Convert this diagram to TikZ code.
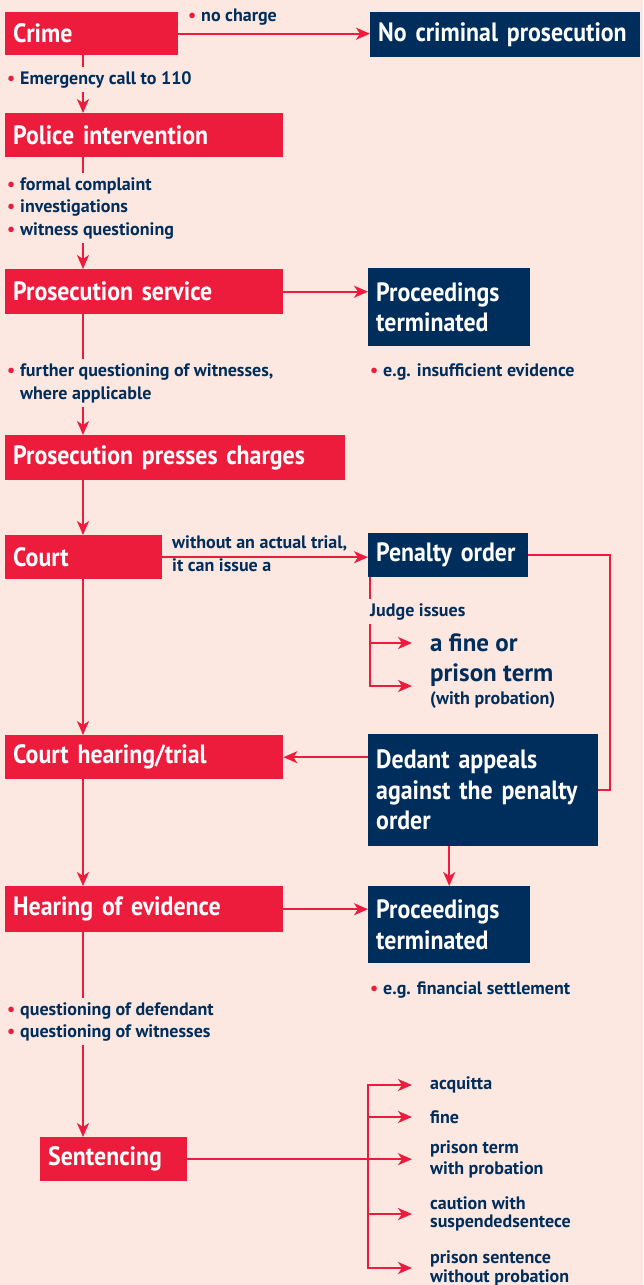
\documentclass[tikz,border=0pt]{standalone}
\usepackage{fontspec}
\setmainfont{PT Sans}
\newfontfamily\boxfont[FakeStretch=0.9]{PT Sans}
\usetikzlibrary{arrows.meta}
\usetikzlibrary{positioning}
\usetikzlibrary{calc}
\definecolor{bgpink}{HTML}{FCE7E1}
\definecolor{crimred}{HTML}{EE1C3C}
\definecolor{navy}{HTML}{002E5C}
\tikzstyle{redbox} = [rectangle, anchor=north west, fill=crimred, text=white, font=\boxfont\bfseries\fontsize{26.5}{30.5}\selectfont, align=left, inner xsep=8pt, inner ysep=0pt]
\tikzstyle{bluebox} = [redbox, fill=navy]
\tikzstyle{note} = [anchor=north west, text=navy, font=\bfseries\fontsize{18}{22.5}\selectfont, align=left, inner xsep=0pt, inner ysep=4pt]
\tikzstyle{outcome} = [note, anchor=west, font=\bfseries\fontsize{18}{20}\selectfont]
\tikzstyle{line} = [crimred, line width=2pt]
\tikzstyle{arrow} = [line, -{Stealth[length=14pt,width=12pt,inset=4pt]}]
\newcommand{\rdot}{\makebox[13pt][l]{\textcolor{crimred}{\textbullet}}}

\begin{document}
\begin{tikzpicture}[x=1pt, y=-1pt]

    \fill[bgpink] (0,0) rectangle (643,1285);
    \useasboundingbox (0,0) rectangle (643,1285);
    \coordinate (spine) at (83,0);
    \coordinate (bus) at (368,0);

    \node (crime) [redbox, text width=157pt, minimum height=43pt] at (5,12) {Crime};
    \node (nocrim) [bluebox, text width=254pt, minimum height=45pt] at (370,12) {No criminal prosecution};
    \node (police) [redbox, text width=262pt, minimum height=44pt] at (5,113) {Police intervention};
    \node (prosserv) [redbox, text width=262pt, minimum height=45pt] at (5,269) {Prosecution service};
    \node (term1) [bluebox, text width=146pt, minimum height=78pt] at (368,268) {Proceedings\\terminated};
    \node (charges) [redbox, text width=324pt, minimum height=45pt] at (5,435) {Prosecution presses charges};
    \node (court) [redbox, text width=141pt, minimum height=44pt] at (5,535) {Court};
    \node (penalty) [bluebox, text width=144pt, minimum height=44pt] at (368,533) {Penalty order};
    \node (hearing) [redbox, text width=262pt, minimum height=44pt] at (5,735) {Court hearing/trial};
    \node (appeal) [bluebox, text width=214pt, minimum height=112pt] at (368,734) {Dedant appeals\\against the penalty\\order};
    \node (evidence) [redbox, text width=262pt, minimum height=46pt] at (5,886) {Hearing of evidence};
    \node (term2) [bluebox, text width=146pt, minimum height=77pt] at (368,886) {Proceedings\\terminated};
    \node (sent) [redbox, text width=131pt, minimum height=44pt] at (40,1137) {Sentencing};

    \node (nocharge) [note] at (188,5) {\rdot no charge};
    \node (emerg) [note] at (7,67) {\rdot Emergency call to 110};
    \node (inquiry) [note] at (7,173) {\rdot formal complaint\\\rdot investigations\\\rdot witness questioning};
    \node (further) [note, font=\bfseries\fontsize{18}{23}\selectfont] at (7,359) {\rdot further questioning of witnesses,\\\hspace*{13pt}where applicable};
    \node (insuff) [note] at (370,359) {\rdot e.g. insufficient evidence};
    \node (notrial) [note, font=\bfseries\fontsize{18}{23}\selectfont] at (172,531) {without an actual trial,\\it can issue a};
    \node (judge) [note] at (370,599) {Judge issues};
    \node (fineor) [outcome, font=\bfseries\fontsize{25}{26}\selectfont] at (430,643) {a fine or};
    \node (prison) [outcome, font=\bfseries\fontsize{25}{23}\selectfont] at (430,686) {prison term\\{\fontsize{18}{18}\selectfont (with probation)}};
    \node (settle) [note] at (370,977) {\rdot e.g. financial settlement};
    \node (quest) [note, font=\bfseries\fontsize{18}{22}\selectfont] at (7,998) {\rdot questioning of defendant\\\rdot questioning of witnesses};

    \node (acq) [outcome] at (430,1085) {acquitta};
    \node (fine) [outcome] at (430,1117) {fine};
    \node (probterm) [outcome, font=\bfseries\fontsize{18}{21}\selectfont] at (430,1159) {prison term\\with probation};
    \node (caution) [outcome, font=\bfseries\fontsize{18}{18}\selectfont] at (430,1214) {caution with\\suspendedsentece};
    \node (psent) [outcome, font=\bfseries\fontsize{18}{19}\selectfont] at (430,1268) {prison sentence\\without probation};

    \draw [arrow] (crime.east) -- (crime.east -| nocrim.west);
    \draw [line] (crime.south -| spine) -- (emerg.north -| spine);
    \draw [arrow] (emerg.south -| spine) -- (police.north -| spine);
    \draw [line] (police.south -| spine) -- (inquiry.north -| spine);
    \draw [arrow] (inquiry.south -| spine) -- (prosserv.north -| spine);
    \draw [arrow] (prosserv.east) -- (prosserv.east -| term1.west);
    \draw [line] (prosserv.south -| spine) -- (further.north -| spine);
    \draw [arrow] (further.south -| spine) -- (charges.north -| spine);
    \draw [arrow] (charges.south -| spine) -- (court.north -| spine);
    \draw [arrow] (court.east) -- (court.east -| penalty.west);
    \draw [arrow] (court.south -| spine) -- (hearing.north -| spine);

    \draw [line] ([xshift=2pt]penalty.south west) -- ([xshift=2pt]penalty.south west |- judge.north);
    \draw [arrow, shorten >=18pt] (judge.south west) |- (fineor.west);
    \draw [arrow, shorten >=18pt] (judge.south west) |- (prison.west);
    \draw [line] (penalty.east) -| ($(appeal.east)+(12,0)$) -- (appeal.east);
    \draw [arrow] (appeal.west |- hearing.east) -- (hearing.east);
    \draw [arrow] (term2.north |- appeal.south) -- (term2.north);

    \draw [arrow] (hearing.south -| spine) -- (evidence.north -| spine);
    \draw [arrow] (evidence.east) -- (evidence.east -| term2.west);
    \draw [line] (evidence.south -| spine) -- (quest.north -| spine);
    \draw [arrow] (quest.south -| spine) -- (sent.north -| spine);

    \draw [arrow, shorten >=18pt] (sent.east) -- (sent.east -| probterm.west);
    \draw [arrow, shorten >=18pt] (bus |- sent.east) |- (acq.west);
    \draw [arrow, shorten >=18pt] (bus |- sent.east) |- (fine.west);
    \draw [arrow, shorten >=18pt] (bus |- sent.east) |- (caution.west);
    \draw [arrow, shorten >=18pt] (bus |- sent.east) |- (psent.west);

\end{tikzpicture}
\end{document}
